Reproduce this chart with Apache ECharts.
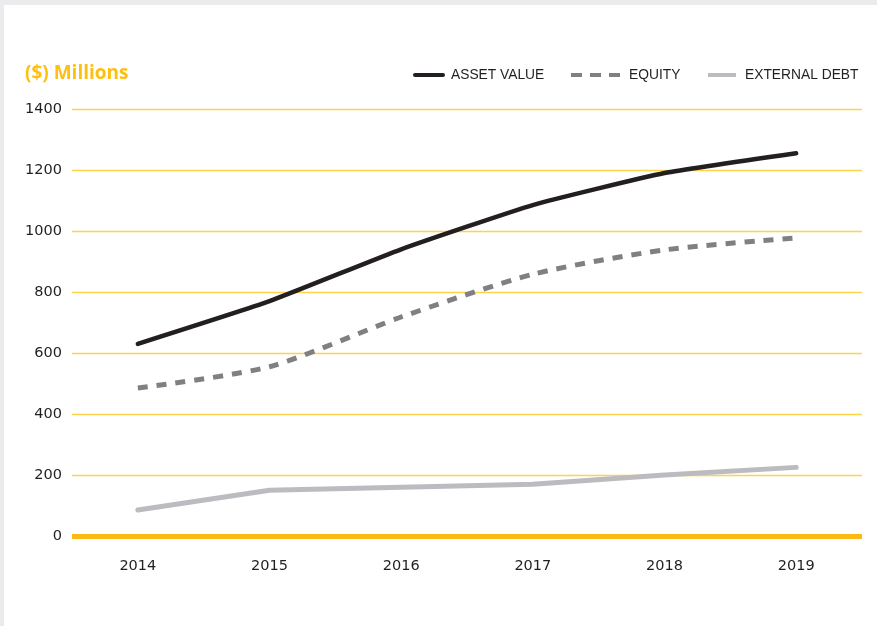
<!DOCTYPE html>
<html>
<head>
<meta charset="utf-8">
<script src="https://cdn.jsdelivr.net/npm/echarts@6/dist/echarts.min.js"></script>
<style>
  html, body { margin: 0; padding: 0; background: #ebebed; }
  #chart { position: absolute; left: 4px; top: 5px; width: 873px; height: 621px; background: #fff; }
</style>
</head>
<body>
<div id="chart"></div>
<script>
// 数据
const years = ['2014', '2015', '2016', '2017', '2018', '2019']
const assetValue = [630, 770, 940, 1085, 1190, 1255]
const equity = [485, 555, 718, 858, 938, 977]
const externalDebt = [85, 150, 160, 170, 200, 225]

const chart = echarts.init(document.getElementById('chart'))

// 图例图标
const solidIcon = 'path://M2,0H30A2,2 0 0 1 30,4H2A2,2 0 0 1 2,0Z'
const dashIcon = 'path://M0,0H11V4H0Z M19,0H30V4H19Z M38,0H49V4H38Z'
const flatIcon = 'path://M0,0H28V4H0Z'

// 三个图例分开放, 图标宽度不一样
const makeLegend = (name, icon, left, w, pad) => ({
  left: left,
  top: 58,
  itemWidth: w,
  itemHeight: 4,
  textStyle: {
    color: '#231f20', fontSize: 13.8, fontFamily: 'Liberation Sans',
    padding: [0, 0, 0, pad]
  },
  data: [{ name: name, icon: icon }]
})

const option = {
  animation: false,
  title: {
    text: '($) Millions',
    left: 16,
    top: 54,
    textStyle: { color: '#fdc010', fontSize: 19, fontWeight: 'bold', fontFamily: 'Open Sans' }
  },
  legend: [
    makeLegend('ASSET VALUE', solidIcon, 404, 32, 1),
    makeLegend('EQUITY', dashIcon, 562, 49, 4),
    makeLegend('EXTERNAL DEBT', flatIcon, 699, 28, 4)
  ],
  grid: { left: 68, right: 15, top: 104, bottom: 90 },
  xAxis: {
    type: 'category',
    data: years,
    axisLine: { show: false },
    axisTick: { show: false },
    axisLabel: { color: '#231f20', fontSize: 14.5, fontFamily: 'DejaVu Sans', margin: 23 }
  },
  yAxis: {
    type: 'value',
    min: 0,
    max: 1400,
    interval: 200,
    axisLine: { show: false },
    axisTick: { show: false },
    axisLabel: {
      color: '#231f20', fontSize: 14.5, fontFamily: 'DejaVu Sans', margin: 10,
      formatter: (v) => String(v)
    },
    splitLine: { lineStyle: { color: '#fdd34a', width: 1.3 } }
  },
  series: [
    {
      name: 'ASSET VALUE',
      type: 'line',
      data: assetValue,
      showSymbol: false,
      symbol: 'none',
      smooth: 0.15,
      lineStyle: { color: '#231f20', width: 4.5, cap: 'round' },
      itemStyle: { color: '#231f20' },
      z: 4
    },
    {
      name: 'EQUITY',
      type: 'line',
      data: equity,
      showSymbol: false,
      symbol: 'none',
      smooth: 0.25,
      lineStyle: { color: '#808082', width: 5, type: [10, 9] },
      itemStyle: { color: '#808082' },
      z: 3
    },
    {
      name: 'EXTERNAL DEBT',
      type: 'line',
      data: externalDebt,
      showSymbol: false,
      symbol: 'none',
      lineStyle: { color: '#bcbcc0', width: 5, cap: 'round' },
      itemStyle: { color: '#bcbcc0' },
      z: 2,
      markLine: {
        silent: true,
        symbol: 'none',
        label: { show: false },
        lineStyle: { color: '#fdb913', width: 5, type: 'solid' },
        data: [{ yAxis: 0 }]
      }
    }
  ]
}

chart.setOption(option)
</script>
</body>
</html>
